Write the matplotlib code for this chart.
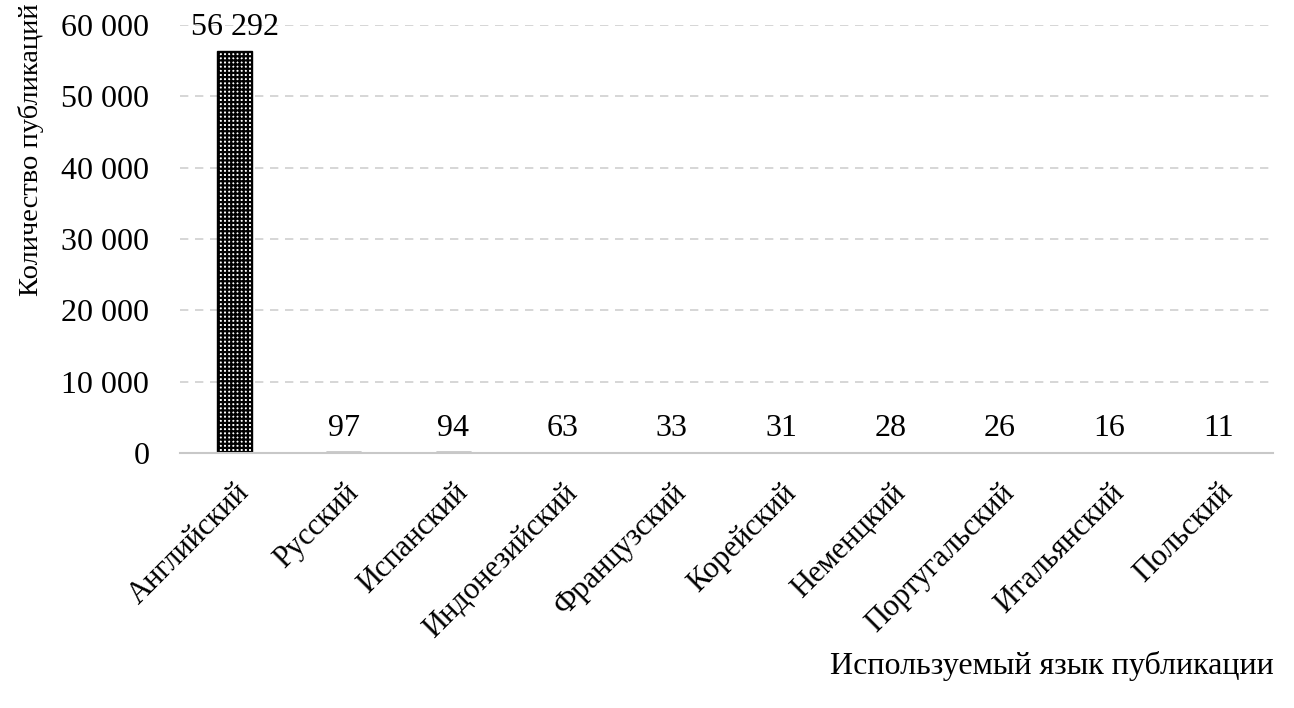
import matplotlib.pyplot as plt
import matplotlib as mpl

plt.rcParams['font.family'] = ['Liberation Serif', 'DejaVu Serif']
mpl.rcParams['hatch.linewidth'] = 1.6

languages = ['Английский', 'Русский', 'Испанский', 'Индонезийский', 'Французский',
             'Корейский', 'Неменцкий', 'Португальский', 'Итальянский', 'Польский']
counts = [56292, 97, 94, 63, 33, 31, 28, 26, 16, 11]
y_ticks = [0, 10000, 20000, 30000, 40000, 50000, 60000]

FS = 23


def fmt(v):
    return f"{v:,}".replace(',', ' ')


fig = plt.figure(figsize=(12.94, 7.08), dpi=100)
ax = fig.add_axes([0.139, 0.36, 0.845, 0.605])

x = range(len(languages))
bars = ax.bar(x, counts, width=0.32, color='white', edgecolor='black',
              hatch='++++', linewidth=1.0)
for b, v in zip(bars, counts):
    ax.annotate(fmt(v), (b.get_x() + b.get_width() / 2, v), xytext=(0, 7),
                textcoords='offset points', ha='center', va='bottom',
                fontsize=FS, annotation_clip=False)

ax.set_ylim(0, 60000)
ax.set_xlim(-0.5, len(languages) - 0.5)
ax.set_yticks(y_ticks)
ax.set_yticklabels([fmt(t) for t in y_ticks], fontsize=FS)
ax.set_xticks(list(x))
ax.set_xticklabels(languages, rotation=45, ha='right', rotation_mode='anchor', fontsize=22)
ax.tick_params(axis='y', length=0, pad=22)
ax.tick_params(axis='x', length=0, pad=18)

ax.grid(axis='y', color='#d0d0d0', linestyle=(0, (5, 4)), linewidth=1.2)
ax.set_axisbelow(True)
for s in ['top', 'right', 'left']:
    ax.spines[s].set_visible(False)
ax.spines['bottom'].set_color('#c8c8c8')
ax.spines['bottom'].set_linewidth(1.5)

fig.text(0.024, 0.995, 'Количество публикаций', rotation=90, ha='center', va='top', fontsize=20.5)
fig.text(0.984, 0.06, 'Используемый язык публикации', ha='right', va='center', fontsize=FS)

fig.savefig('out.png', dpi=100)
